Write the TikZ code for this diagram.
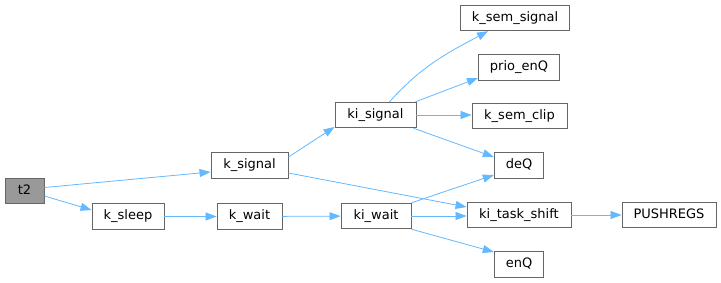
\documentclass[tikz,border=0pt]{standalone}
\usepackage{fontspec}
\setmainfont{DejaVu Sans}
\usetikzlibrary{arrows.meta}
\definecolor{edgeblue}{HTML}{63B8FF}
\definecolor{boxgrey}{HTML}{666666}
\definecolor{fillgrey}{HTML}{999999}
\tikzset{
  fn/.style={draw=boxgrey, fill=white, line width=0.9pt, inner xsep=11.5pt, inner ysep=0pt,
    minimum height=25.5pt, text height=9.5pt, text depth=2.7pt,
    font=\fontsize{13}{15}\selectfont, anchor=center},
  root/.style={fn, fill=fillgrey},
  call/.style={draw=edgeblue, line width=0.8pt, -{Triangle[length=11pt,width=8pt]}}
}
\begin{document}
\begin{tikzpicture}[x=1pt,y=-1pt]
\useasboundingbox (0,0) rectangle (721,283);
\node[root, minimum width=39pt] (t2) at (24.5,191) {t2};
\node[fn, minimum width=77pt] (ksignal) at (249.5,165.5) {k\_signal};
\node[fn, minimum width=72pt] (ksleep) at (128,216.5) {k\_sleep};
\node[fn, minimum width=65pt] (kwait) at (249.5,216.5) {k\_wait};
\node[fn, minimum width=81pt] (kisignal) at (375.5,115) {ki\_signal};
\node[fn, minimum width=104pt] (ksemsignal) at (515,18) {k\_sem\_signal};
\node[fn, minimum width=80pt] (prioenq) at (519,67.5) {prio\_enQ};
\node[fn, minimum width=95pt] (ksemclip) at (519.5,116) {k\_sem\_clip};
\node[fn, minimum width=48pt] (deq) at (519,165.5) {deQ};
\node[fn, minimum width=104pt] (kitaskshift) at (519,215) {ki\_task\_shift};
\node[fn, minimum width=94pt] (pushregs) at (669,215) {PUSHREGS};
\node[fn, minimum width=70pt] (kiwait) at (376,216) {ki\_wait};
\node[fn, minimum width=48pt] (enq) at (519,264.5) {enQ};

\draw[call] (t2.east |- 0,187.5) -- (ksignal.west |- 0,172);
\draw[call] (t2.east |- 0,196) -- (ksleep.west |- 0,210);
\draw[call] (ksleep) -- (kwait);
\draw[call] (ksignal.east |- 0,157) -- (kisignal.west |- 0,127);
\draw[call] (ksignal.east |- 0,173) -- (kitaskshift.west |- 0,207);
\draw[call] (kwait) -- (kiwait);
\draw[call] ([xshift=14pt]kisignal.north) to[out=48,in=208] ([xshift=-27pt]ksemsignal.south);
\draw[call] ([xshift=-1pt]kisignal.north east) -- (prioenq.west |- 0,78);
\draw[call] (kisignal.east) -- (ksemclip.west |- kisignal.east);
\draw[call] ([xshift=-3pt]kisignal.south east) -- (deq.west |- 0,157);
\draw[call] (kiwait.north east) -- (deq.west |- 0,175);
\draw[call] (kiwait.east) -- (kitaskshift.west |- kiwait.east);
\draw[call] (kiwait.south east) -- (enq.west |- 0,252);
\draw[call] (kitaskshift) -- (pushregs);
\end{tikzpicture}
\end{document}
